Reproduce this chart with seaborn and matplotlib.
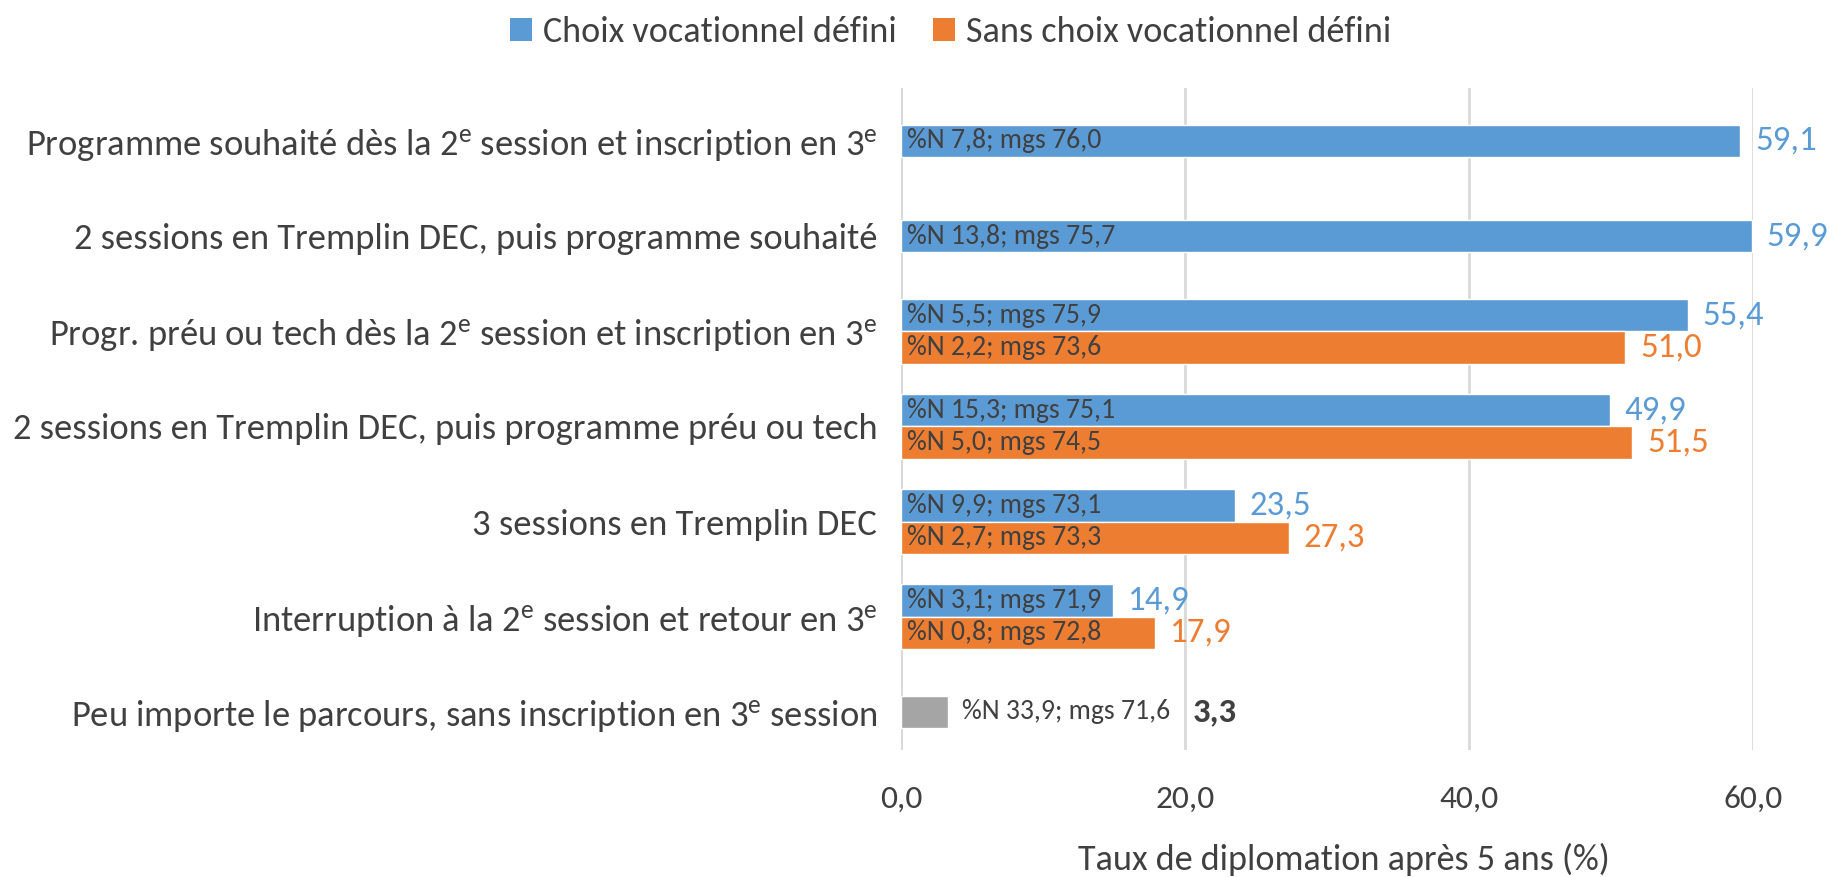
import matplotlib
matplotlib.use("Agg")
import numpy as np
import pandas as pd
import seaborn as sns
import matplotlib.pyplot as plt
from matplotlib.patches import Patch
from matplotlib.colors import to_hex

FONT = "Carlito"

categories = [
    "Programme souhaité dès la 2$^{\\mathrm{e}}$ session et inscription en 3$^{\\mathrm{e}}$",
    "2 sessions en Tremplin DEC, puis programme souhaité",
    "Progr. préu ou tech dès la 2$^{\\mathrm{e}}$ session et inscription en 3$^{\\mathrm{e}}$",
    "2 sessions en Tremplin DEC, puis programme préu ou tech",
    "3 sessions en Tremplin DEC",
    "Interruption à la 2$^{\\mathrm{e}}$ session et retour en 3$^{\\mathrm{e}}$",
    "Peu importe le parcours, sans inscription en 3$^{\\mathrm{e}}$ session",
]
series = ["Choix vocationnel défini", "Sans choix vocationnel défini", "Tous"]

choix = [59.1, 59.9, 55.4, 49.9, 23.5, 14.9, np.nan]
sans_choix = [np.nan, np.nan, 51.0, 51.5, 27.3, 17.9, np.nan]
tous = [np.nan, np.nan, np.nan, np.nan, np.nan, np.nan, 3.3]

choix_notes = ["%N 7,8; mgs 76,0", "%N 13,8; mgs 75,7", "%N 5,5; mgs 75,9",
               "%N 15,3; mgs 75,1", "%N 9,9; mgs 73,1", "%N 3,1; mgs 71,9", None]
sans_notes = [None, None, "%N 2,2; mgs 73,6", "%N 5,0; mgs 74,5",
              "%N 2,7; mgs 73,3", "%N 0,8; mgs 72,8", None]
tous_notes = [None, None, None, None, None, None, "%N 33,9; mgs 71,6"]

xticks = [0, 20, 40, 60]
xlabel = "Taux de diplomation après 5 ans (%)"

colors = {series[0]: "#5B9BD5", series[1]: "#ED7D31", series[2]: "#A5A5A5"}
label_colors = {series[0]: "#5B9BD5", series[1]: "#ED7D31", series[2]: "#404040"}
text_dark = "#404040"

# long table
rows = []
for i, cat in enumerate(categories):
    for s, vals, notes in zip(series, [choix, sans_choix, tous], [choix_notes, sans_notes, tous_notes]):
        if not np.isnan(vals[i]):
            both = not np.isnan(choix[i]) and not np.isnan(sans_choix[i])
            rows.append({"cat": cat, "serie": s, "value": vals[i], "note": notes[i], "pair": both})
df = pd.DataFrame(rows)

sns.set_style("white")
plt.rcParams["font.family"] = [FONT, "DejaVu Sans"]
plt.rcParams["mathtext.fontset"] = "custom"
plt.rcParams["mathtext.rm"] = FONT
plt.rcParams["mathtext.it"] = FONT

fig = plt.figure(figsize=(18.39, 8.77), dpi=100)
ax = fig.add_axes([0.4899, 0.1448, 0.4633, 0.7549])

sns.barplot(data=df[df["pair"]], x="value", y="cat", hue="serie", order=categories,
            hue_order=series[:2], palette=colors, orient="y", width=0.68, dodge=True,
            saturation=1, errorbar=None, legend=False, ax=ax)
sns.barplot(data=df[~df["pair"]], x="value", y="cat", hue="serie", order=categories,
            hue_order=series, palette=colors, orient="y", width=0.33, dodge=False,
            saturation=1, errorbar=None, legend=False, ax=ax)

ax.set_xlim(0, 60)
ax.set_ylim(6.40, -0.557)
ax.set_xticks(xticks)
ax.set_xticklabels([f"{t:.1f}".replace(".", ",") for t in xticks])
ax.xaxis.grid(True, color="#D9D9D9", linewidth=2)
ax.set_axisbelow(True)
ax.axvline(0, color="#D9D9D9", linewidth=2, zorder=0)
for sp in ax.spines.values():
    sp.set_visible(False)
ax.tick_params(axis="y", length=0, pad=17, labelsize=26.3, labelcolor=text_dark)
ax.tick_params(axis="x", length=0, pad=25, labelsize=24, labelcolor=text_dark)
ax.set_ylabel("")
ax.set_xlabel(xlabel, fontsize=26, color=text_dark, labelpad=22)
ax.xaxis.label.set_x(0.52)

# annotate bars
color_to_serie = {to_hex(c): s for s, c in colors.items()}
lookup = {(r.cat, r.serie): r for r in df.itertuples()}
for bar in ax.patches:
    w = bar.get_width()
    if np.isnan(w) or w == 0:
        continue
    s = color_to_serie.get(to_hex(bar.get_facecolor()))
    if s is None:
        continue
    yc = bar.get_y() + bar.get_height() / 2
    cat = categories[int(round(yc))]
    r = lookup[(cat, s)]
    val_txt = f"{r.value:.1f}".replace(".", ",")
    if s == series[2]:
        ax.annotate(r.note, (w, yc), xytext=(10, 0), textcoords="offset points",
                    va="center", ha="left", fontsize=20, color=text_dark)
        ax.annotate(val_txt, (w, yc), xytext=(176, 0), textcoords="offset points",
                    va="center", ha="left", fontsize=25, color=label_colors[s],
                    fontweight="bold")
    else:
        ax.text(0.4, yc, r.note, va="center", ha="left", fontsize=20, color=text_dark)
        ax.annotate(val_txt, (w, yc), xytext=(11, 0), textcoords="offset points",
                    va="center", ha="left", fontsize=25, color=label_colors[s],
                    annotation_clip=False)

handles = [Patch(facecolor=colors[s], edgecolor="none") for s in series[:2]]
fig.legend(handles, series[:2], loc="center", bbox_to_anchor=(0.517, 0.9635), ncol=2,
           frameon=False, fontsize=26, handlelength=0.62, handleheight=0.62,
           handletextpad=0.3, columnspacing=1.0, labelcolor=text_dark)

fig.savefig("out.png", dpi=100)
